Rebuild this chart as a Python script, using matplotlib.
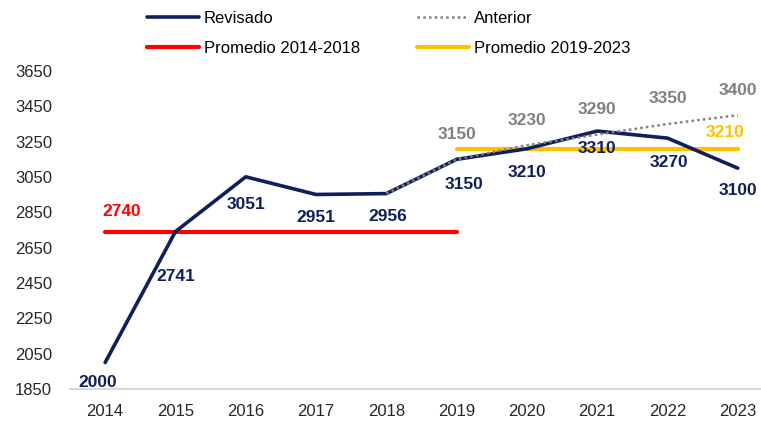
import matplotlib
matplotlib.use("Agg")
import matplotlib.pyplot as plt

plt.rcParams['font.family'] = ['Liberation Sans', 'DejaVu Sans']

years = ['2014', '2015', '2016', '2017', '2018', '2019', '2020', '2021', '2022', '2023']
revisado = [2000, 2741, 3051, 2951, 2956, 3150, 3210, 3310, 3270, 3100]
anterior_years = ['2018', '2019', '2020', '2021', '2022', '2023']
anterior = [2956, 3150, 3230, 3290, 3350, 3400]
prom_1418 = 2740
prom_1923 = 3210
yticks = [1850, 2050, 2250, 2450, 2650, 2850, 3050, 3250, 3450, 3650]

navy = '#0F1F5C'
gray = '#808080'
red = '#FF0000'
gold = '#FFC000'

fig = plt.figure(figsize=(7.61, 4.28), dpi=100)
ax = fig.add_axes([70 / 761, 39 / 428, 691 / 761, 318 / 428])

x = list(range(len(years)))
xa = [years.index(y) for y in anterior_years]

l_rev, = ax.plot(x, revisado, color=navy, lw=2.6, solid_capstyle='round', zorder=3)
l_ant, = ax.plot(xa, anterior, color=gray, lw=1.8, ls=(0, (1, 1.3)), zorder=4)
l_red, = ax.plot([0, 5], [prom_1418] * 2, color=red, lw=3, solid_capstyle='round', zorder=2)
l_gold, = ax.plot([5, 9], [prom_1923] * 2, color=gold, lw=3, solid_capstyle='round', zorder=2)

lab_fs = 12.5
# offsets for the value labels (pixels)
rev_off = [(-7, -20), (0, -45), (0, -28), (0, -23), (1, -23),
           (7, -25), (0, -24), (0, -17), (1, -24), (0, -22)]
for i, v in enumerate(revisado):
    dx, dy = rev_off[i]
    ax.annotate(str(v), (x[i], v), xytext=(dx * 0.72, dy * 0.72), textcoords='offset points',
                ha='center', va='center', fontsize=lab_fs, fontweight='bold', color=navy)

for i, v in zip(xa[1:], anterior[1:]):
    ax.annotate(str(v), (i, v), xytext=(0, 25 * 0.72), textcoords='offset points',
                ha='center', va='center', fontsize=lab_fs, fontweight='bold', color=gray)

ax.annotate(str(prom_1418), (0, prom_1418), xytext=(17 * 0.72, 20 * 0.72), textcoords='offset points',
            ha='center', va='center', fontsize=lab_fs, fontweight='bold', color=red)
ax.annotate(str(prom_1923), (9, prom_1923), xytext=(-13 * 0.72, 16 * 0.72), textcoords='offset points',
            ha='center', va='center', fontsize=lab_fs, fontweight='bold', color=gold)

ax.set_xlim(-0.5, 9.33)
ax.set_ylim(1850, 3650)
ax.set_xticks(x)
ax.set_xticklabels(years)
ax.set_yticks(yticks)
ax.tick_params(axis='both', length=0, labelsize=12, labelcolor='#262626')
ax.tick_params(axis='y', pad=13)
ax.tick_params(axis='x', pad=11)
for s in ['top', 'right', 'left']:
    ax.spines[s].set_visible(False)
ax.spines['bottom'].set_color('#D9D9D9')
ax.spines['bottom'].set_linewidth(1.5)

fig.legend([l_rev, l_red, l_ant, l_gold],
           ['Revisado', 'Promedio 2014-2018', 'Anterior', 'Promedio 2019-2023'],
           ncol=2, loc='upper left', bbox_to_anchor=(132 / 761, 1.01), frameon=False,
           fontsize=12, handlelength=3.1, columnspacing=3.45, labelspacing=0.9,
           handletextpad=0.3)

fig.savefig('out.png', dpi=100)
